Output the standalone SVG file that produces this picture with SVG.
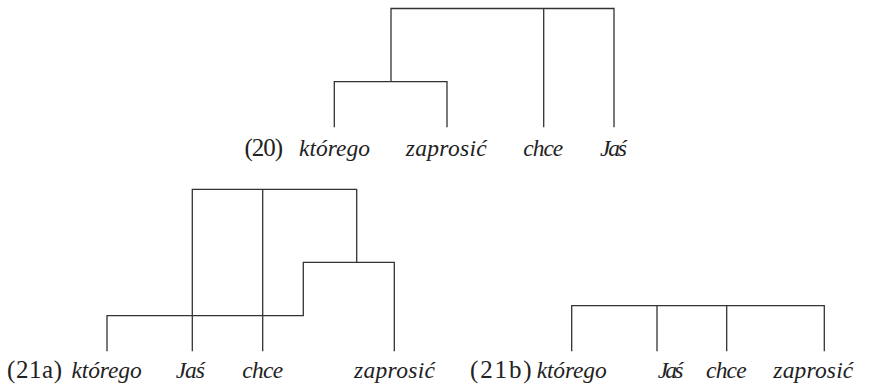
<svg xmlns="http://www.w3.org/2000/svg" width="869" height="387" viewBox="0 0 869 387">
<style>
.c{fill:none;stroke:#333;stroke-width:1.3;stroke-linecap:square}
.w{font-family:"Liberation Serif","Times New Roman",serif;font-style:italic;font-size:23.5px;fill:#222}
.n{font-family:"Liberation Serif","Times New Roman",serif;font-size:25px;fill:#222}
</style>
<rect width="869" height="387" fill="#fff"/>
<g id="connectors">
<path class="c" d="M391,8.5H614M391,8.5V81.7M334.3,81.7H447M334.3,81.7V126.5M447,81.7V126.5M543.7,8.5V126.5M614,8.5V126.5"/>
<path class="c" d="M192.3,189.3H356.7M192.3,189.3V350.5M262.7,189.3V350.5M356.7,189.3V262.3M303.3,262.3H394.3M394.3,262.3V350.5M303.3,262.3V315.7M107,315.7H303.3M107,315.7V350.5"/>
<path class="c" d="M571.7,305.7H824.3M571.7,305.7V350.5M657,305.7V350.5M726.7,305.7V350.5M824.3,305.7V350.5"/>
</g>
<g id="tree20">
<text class="n" x="244.5" y="155.5" textLength="38.5" lengthAdjust="spacing">(20)</text>
<text class="w" x="299" y="155.5" textLength="71" lengthAdjust="spacing">którego</text>
<text class="w" x="405.7" y="155.5" textLength="81" lengthAdjust="spacing">zaprosić</text>
<text class="w" x="523.3" y="155.5" textLength="40" lengthAdjust="spacing">chce</text>
<text class="w" x="600" y="155.5" textLength="27" lengthAdjust="spacing">Jaś</text>
</g>
<g id="tree21a">
<text class="n" x="7" y="377.5" textLength="55" lengthAdjust="spacing">(21a)</text>
<text class="w" x="71.5" y="377.5" textLength="70.2" lengthAdjust="spacing">którego</text>
<text class="w" x="175.7" y="377.5" textLength="29.3" lengthAdjust="spacing">Jaś</text>
<text class="w" x="242.3" y="377.5" textLength="41" lengthAdjust="spacing">chce</text>
<text class="w" x="354" y="377.5" textLength="81" lengthAdjust="spacing">zaprosić</text>
</g>
<g id="tree21b">
<text class="n" x="470" y="377.5" textLength="61.7" lengthAdjust="spacing">(21b)</text>
<text class="w" x="536.7" y="377.5" textLength="70" lengthAdjust="spacing">którego</text>
<text class="w" x="657.7" y="377.5" textLength="25.6" lengthAdjust="spacing">Jaś</text>
<text class="w" x="706" y="377.5" textLength="40.7" lengthAdjust="spacing">chce</text>
<text class="w" x="773.3" y="377.5" textLength="80" lengthAdjust="spacing">zaprosić</text>
</g>
</svg>
